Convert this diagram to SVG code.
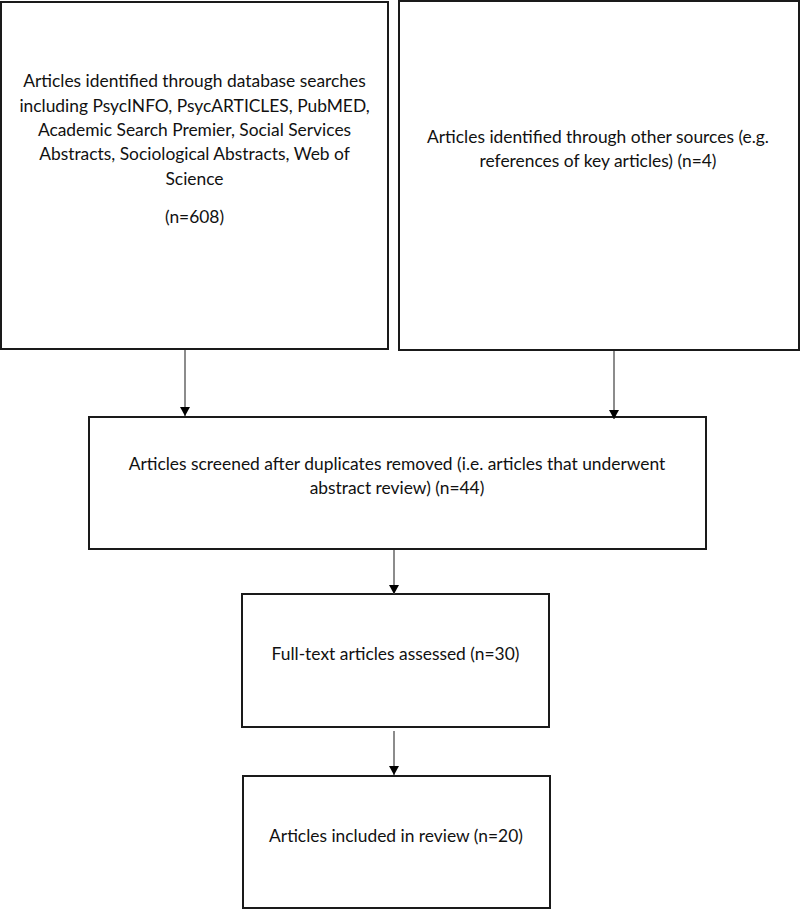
<svg xmlns="http://www.w3.org/2000/svg" width="800" height="909" viewBox="0 0 800 909">
<defs>
<marker id="ah" markerWidth="11" markerHeight="11" refX="9" refY="5" orient="auto" markerUnits="userSpaceOnUse">
<path d="M0,0 L9,5 L0,10 Z" fill="#000"/>
</marker>
<style>
.box{fill:#fff;stroke:#1a1a1a;stroke-width:2}
.t{font-family:Lato,"Open Sans","Liberation Sans",sans-serif;font-size:17.4px;fill:#111;text-anchor:middle}
.c{stroke:#666;stroke-width:1.5;fill:none}
</style>
</defs>
<rect width="800" height="909" fill="#fff"/>
<g id="n1">
<rect class="box" x="1" y="2" width="387" height="347"/>
<text class="t"><tspan x="194.5" y="87">Articles identified through database searches</tspan><tspan x="194.5" y="111.5">including PsycINFO, PsycARTICLES, PubMED,</tspan><tspan x="194.5" y="136">Academic Search Premier, Social Services</tspan><tspan x="194.5" y="160">Abstracts, Sociological Abstracts, Web of</tspan><tspan x="194.5" y="184.5">Science</tspan><tspan x="194.5" y="223">(n=608)</tspan></text>
</g>
<g id="n2">
<rect class="box" x="399" y="1" width="400" height="349"/>
<text class="t"><tspan x="598" y="143">Articles identified through other sources (e.g.</tspan><tspan x="598" y="167">references of key articles) (n=4)</tspan></text>
</g>
<g id="n3">
<rect class="box" x="89" y="417" width="617" height="132"/>
<text class="t"><tspan x="397" y="470">Articles screened after duplicates removed (i.e. articles that underwent</tspan><tspan x="397" y="494">abstract review) (n=44)</tspan></text>
</g>
<g id="n4">
<rect class="box" x="242" y="594" width="307" height="133"/>
<text class="t" x="395.5" y="660">Full-text articles assessed (n=30)</text>
</g>
<g id="n5">
<rect class="box" x="243" y="776" width="307" height="132"/>
<text class="t" x="396" y="842">Articles included in review (n=20)</text>
</g>
<g id="connectors">
<line class="c" x1="185" y1="350" x2="185" y2="416" marker-end="url(#ah)"/>
<line class="c" x1="614" y1="351" x2="614" y2="419" marker-end="url(#ah)"/>
<line class="c" x1="394" y1="550" x2="394" y2="594" marker-end="url(#ah)"/>
<line class="c" x1="394" y1="731" x2="394" y2="775" marker-end="url(#ah)"/>
</g>
</svg>
